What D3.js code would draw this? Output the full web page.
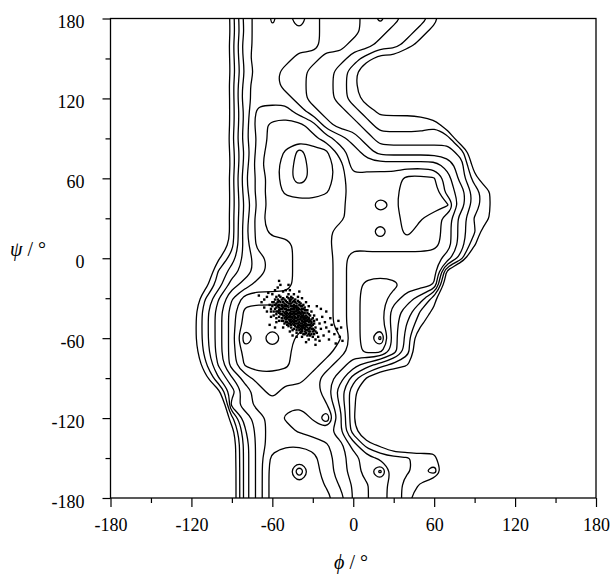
<!DOCTYPE html>
<html>
<head>
<meta charset="utf-8">
<script src="https://cdn.jsdelivr.net/npm/d3@7"></script>
<style>
  body { margin: 0; background: #fff; }
  text { font-family: "Liberation Serif", "Times New Roman", serif; fill: #000; }
</style>
</head>
<body>
<svg id="chart" width="612" height="575"></svg>
<script>
// Ramachandran contour map + helix scatter

// contour level, 10 degree grid
const phiCols = [-130,-120,-110,-100,-90,-80,-70,-60,-50,-40,-30,-20,-10,0,10,20,30,40,50,60,70,80,90,100,110];
const psiRows = [180,170,160,150,140,130,120,110,100,90,80,70,60,50,40,30,20,10,0,-10,-20,-30,-40,-50,-60,-70,-80,-90,-100,-110,-120,-130,-140,-150,-160,-170,-180];
const levelRows = [
  [-2,-2,-2,-2,1,4,5,5.6,5.2,6,5,4,4,4,3,3.7,3,2,2,1,-1,0,0,0,0],
  [-2,-2,-2,-2,0.9,3.8,5.2,5.4,5.2,5.4,5,4,4,4,3,3,2,2,1,0,-1,0,0,0,0],
  [-2,-2,-2,-2,1.1,4.2,4.8,5.3,5,5,5,4,4,3,3,2,2,1,0,-1,0,0,0,0,0],
  [-2,-2,-2,-2,1,4,5.3,5,5,4,4,3,3,2,1,0,0,-1,-1,0,0,0,0,0,0],
  [-2,-2,-2,-2,0.9,3.7,5,5,4,4,3,3,2,1,-1,-1,-1,-1,-1,-1,0,0,0,0,0],
  [-2,-2,-2,-2,1.1,4.1,5.2,5,4,4,3,3,2,1,-1,-1,-1,-1,-1,-1,-1,0,0,0,0],
  [-2,-2,-2,-2,1,4.3,4.8,5,5,4,3,3,2,1,0,-1,-1,-1,-1,-1,-1,0,0,0,0],
  [-2,-2,-2,-2,1,3.9,6,6,6,5,4,3,3,2,1,0.3,0.3,0.3,0.2,-1,-1,0,0,0,0],
  [-2,-2,-2,-2,1,4,6.2,6.7,6.9,6.8,6,4,3,3,2,1,1,1,1,1.4,-0.5,0,0,0,0],
  [-2,-2,-2,-2,1.2,4.2,5.8,6.9,7,7,6.8,6,5,4,3,2,2,2,2,2,2,-1,0,0,0],
  [-2,-2,-2,-2,1,3.8,6.1,7,7.6,8.8,8,7.7,6,5,4,3,3,3,3,3,3,2,-1,0,0],
  [-2,-2,-2,-2,0.9,4,6.3,7,8,8.9,8.2,8,7,5,5,5,5,5,5,5,4,3,-0.2,0,0],
  [-2,-2,-2,-2,1.1,4.3,5.9,7,8,9.1,8.2,8,7,5.8,6,6,6,6.8,6.8,6.6,5,3,1,-1,0],
  [-2,-2,-2,-2,1,4.1,6.1,7,7.7,8,8,7.6,7,6,6,6,6.2,7,7,7,5,4,2,0.7,-1],
  [-2,-2,-2,-2,1,3.8,5.8,7,7,7,7,7,6.8,6,6,7.1,6.3,7,7.2,7,6.6,4,2,0.8,-1],
  [-2,-2,-2,-2,1.1,4,6.2,7,7,7,7,7,6.8,6,6,6,6,7,6.6,6,5,3,1.4,0.6,-1],
  [-2,-2,-2,-2,1,4.2,6,6.8,7,7,7,6.8,6,6,6,7.1,6,6.8,6,6,5,3,1.6,-1,0],
  [-2,-2,-2,-1.5,1.2,4,6,6,6,7,7,6.8,6,5.8,6,6,6,6,6,5.8,5,3,0.6,-1,0],
  [-2,-2,-2,0.3,2,4,5,6,6,7,7,7,6,5,5,5,5,5,5,5,4,2,-2,0,0],
  [-2,-2,-1,1.6,3,4,5,6,6,7,7,7,6,5,5,5,5,5,5,5,0,-3,0,0,0],
  [-2,-2,0,2,4,5,6,6,6,7,7,7,6,5,5.8,6.1,5.8,5,5,4.4,-1,0,0,0,0],
  [-2,-1,1.4,3.4,5.4,7,7,7,7,7,7,7,6,5,6,6,5,4,3,1,-2,0,0,0,0],
  [-2,-0.4,2,4,6,7.8,8,8,8,7.7,7,7,6,5,6,6,4,3,1.4,0.2,-1,0,0,0,0],
  [-2,-0.3,2,4,6,8,8,8,8,8,7,7,6,5,6,6,4,2.4,0.7,-1,0,0,0,0,0],
  [-2,-0.3,2,4,6,9.4,8,9.7,8,7.2,7,7,6.6,5,6,7.8,4,2,-1,0,0,0,0,0,0],
  [-2,-0.6,1.8,4,6,8,8,8,7.8,7,7,7,6,5,5.8,5.8,4,2,-1,0,0,0,0,0,0],
  [-2,-1.2,1.2,3.6,6,7.7,8,8,7.7,7,7,6,5,4,3,2,1.2,0.6,-1,0,0,0,0,0,0],
  [-2,-2,0,2.4,4.4,6,7,7,7,7,6,5,4,2,0.4,-1,-1,-1,0,0,0,0,0,0,0],
  [-2,-2,-2,0.2,3,5,6,7,6,6,6,5,3,0.8,-1,-1,-1,0,0,0,0,0,0,0,0],
  [-2,-2,-2,-3,4,5,6,6,5.7,5.6,5.6,5.6,3.4,0.8,-1,-1,0,0,0,0,0,0,0,0,0],
  [-2,-2,-2,-2,1.2,4,5,6,5.4,5,5.6,7.4,4,0.6,-1,0,0,0,0,0,0,0,0,0,0],
  [-2,-2,-2,-2,0,3.4,5,6,5.8,5.4,5,5,3.6,1,-1,0,0,0,0,0,0,0,0,0,0],
  [-2,-2,-2,-2,-0.5,3,5,6,6.4,6.4,6.2,5.6,5,3,1,0.2,-1,-1,-1,0,0,0,0,0,0],
  [-2,-2,-2,-2,-0.5,3,5,6.8,7,7,6.8,6,5,4,3,2.2,1.8,1.6,1.2,0.8,-1,0,0,0,0],
  [-2,-2,-2,-2,-0.6,3,5,7,7,9.3,7,6,5,4,3,4.8,2,1.6,1.2,2.1,-1,0,0,0,0],
  [-2,-2,-2,-2,-0.6,3,5,7,7,7.4,7,6.4,5.4,4.4,3.6,2.8,2.2,1,0.4,-1,0,0,0,0,0],
  [-2,-2,-2,-2,-0.6,3,5,7,7,7,7,6.8,6,4.4,3.6,2.8,2.2,1,-1,0,0,0,0,0,0]
];
const thresholds = [0.5,1.5,2.5,3.5,4.5,5.5,6.5,7.5,8.5];

// helix conformations (phi, psi)
const helixPoints = [
  [-56,-31],[-54,-33],[-52,-30],[-50,-32],[-49,-29],[-47,-31],[-45,-33],[-53,-35],[-51,-36],[-48,-34],
  [-46,-36],[-44,-35],[-42,-34],[-55,-37],[-57,-34],[-50,-38],[-47,-39],[-45,-38],[-43,-37],[-41,-39],
  [-52,-40],[-49,-41],[-46,-42],[-44,-40],[-42,-42],[-40,-41],[-38,-40],[-54,-42],[-51,-43],[-48,-44],
  [-45,-45],[-43,-44],[-41,-46],[-39,-44],[-37,-43],[-50,-46],[-47,-47],[-44,-48],[-42,-49],[-40,-48],
  [-38,-47],[-36,-46],[-35,-49],[-46,-50],[-43,-51],[-41,-52],[-39,-51],[-37,-50],[-34,-52],[-33,-50],
  [-44,-53],[-40,-54],[-38,-55],[-36,-53],[-33,-55],[-31,-53],[-58,-38],[-56,-40],[-53,-45],[-49,-48],
  [-60,-36],[-59,-33],[-57,-29],[-55,-28],[-48,-27],[-46,-29],[-43,-31],[-40,-33],[-39,-36],[-37,-38],
  [-36,-41],[-34,-44],[-32,-47],[-30,-50],[-29,-54],[-31,-57],[-34,-58],[-37,-57],[-42,-56],[-45,-54],
  [-48,-51],[-51,-49],[-53,-47],[-55,-44],[-57,-42],[-59,-40],[-61,-38],[-62,-35],[-50,-35],[-48,-37],
  [-46,-40],[-44,-43],[-42,-45],[-40,-50],[-38,-52],[-36,-55],[-35,-45],[-33,-42],[-35,-39],[-38,-43],
  [-41,-37],[-43,-40],[-45,-42],[-47,-44],[-49,-43],[-51,-41],[-53,-38],[-55,-35],[-52,-33],[-49,-36],
  [-47,-34],[-44,-38],[-42,-39],[-40,-43],[-39,-46],[-37,-48],[-35,-51],[-32,-52],[-30,-55],[-28,-52],
  [-27,-56],[-29,-49],[-31,-46],[-33,-45],[-46,-46],[-48,-46],[-50,-44],[-52,-43],[-54,-40],[-56,-36],
  [-45,-36],[-43,-36],[-41,-41],[-39,-42],[-37,-45],[-36,-50],[-34,-47],[-43,-47],[-41,-49],[-39,-49],
  [-45,-49],[-47,-49],[-38,-54],[-35,-56],[-32,-58],[-30,-59],
  [-55,-32],[-53,-31],[-51,-34],[-49,-33],[-47,-32],[-46,-34],[-44,-32],[-42,-36],[-40,-35],[-38,-38],
  [-36,-39],[-34,-41],[-32,-43],[-30,-45],[-29,-47],[-31,-49],[-33,-48],[-35,-47],[-37,-46],[-39,-45],
  [-41,-44],[-43,-42],[-45,-40],[-47,-41],[-49,-39],[-51,-38],[-53,-36],[-55,-39],[-57,-37],[-58,-35],
  [-56,-33],[-54,-38],[-52,-37],[-50,-40],[-48,-42],[-46,-44],[-44,-46],[-42,-47],[-40,-46],[-38,-49],
  [-36,-48],[-34,-50],[-32,-50],[-31,-51],[-33,-53],[-35,-54],[-37,-52],[-39,-53],[-41,-51],[-43,-49],
  [-45,-47],[-47,-46],[-49,-45],[-51,-45],[-53,-42],[-55,-41],[-57,-40],[-52,-47],[-50,-48],[-48,-49],
  [-46,-48],[-44,-50],[-42,-52],[-40,-52],[-38,-51],[-36,-52],[-34,-54],[-32,-55],[-30,-53],[-28,-55],
  [-29,-57],[-33,-57],[-36,-57],[-39,-56],[-42,-54],[-46,-52],[-49,-50],[-44,-41],[-42,-40],[-40,-38],
  [-38,-36],[-36,-37],[-34,-39],[-43,-33],[-41,-32],[-39,-34],[-37,-35],[-45,-30],[-48,-30],[-51,-31],
  [-54,-29],[-58,-31],[-60,-33],[-61,-40],[-59,-43],[-57,-45],[-55,-47],[-50,-42],[-47,-43],[-45,-44],
  [-43,-45],[-41,-43],[-39,-41],[-37,-41],[-35,-43],[-33,-46],[-31,-48],[-46,-38],[-48,-39],[-50,-36],
  [-44,-37],[-42,-38],[-40,-40],[-38,-44],[-36,-44],[-34,-46],[-46,-31],
  [-66,-31],[-64,-29],[-68,-33],[-63,-26],[-60,-27],[-58,-24],[-56,-22],[-54,-20],[-52,-25],[-50,-24],
  [-47,-24],[-44,-27],[-41,-29],[-38,-30],[-35,-33],[-33,-36],[-31,-40],[-29,-43],[-27,-46],[-25,-49],
  [-24,-53],[-26,-59],[-28,-61],[-33,-61],[-38,-59],[-42,-59],[-47,-55],[-52,-52],[-57,-48],[-61,-44],
  [-64,-40],[-66,-37],[-23,-44],[-21,-48],[-20,-52],[-18,-55],[-16,-50],[-14,-57],[-12,-53],[-10,-59],
  [-8,-62],[-13,-64],[-18,-61],[-22,-58],[-25,-62],[-20,-40],[-17,-45],[-24,-38],[-27,-36],[-11,-47],
  [-28,-65],[-35,-63],[-45,-58],[-62,-50],[-58,-52],[-55,-17],[-48,-20],[-40,-25],[-70,-28],[-9,-52]
];

const majorTicks = [-180,-120,-60,0,60,120,180];
const minorTicks = [-150,-90,-30,30,90,150];

const svg = d3.select('#chart');
const x = d3.scaleLinear().domain([-180, 180]).range([110.5, 596]);
const y = d3.scaleLinear().domain([-180, 180]).range([498, 18.5]);

svg.append('clipPath').attr('id', 'plotclip')
  .append('rect')
  .attr('x', x(-180)).attr('y', y(180))
  .attr('width', x(180) - x(-180)).attr('height', y(-180) - y(180));

// grid padded by repeating the edge values, so rings close outside the frame
const padL = 7, nx = 41, ny = psiRows.length + 2;
const grid = new Array(nx * ny);
for (let r = 0; r < ny; r++) {
  const row = levelRows[Math.max(0, Math.min(levelRows.length - 1, r - 1))];
  for (let c = 0; c < nx; c++) {
    grid[r * nx + c] = row[Math.max(0, Math.min(phiCols.length - 1, c - padL))];
  }
}
const phi0 = phiCols[0] - 10 * padL;   // centre of first padded column
const psi0 = psiRows[0] + 10;          // centre of first padded row
const toPhi = cx => phi0 + 10 * (cx - 0.5);
const toPsi = cy => psi0 - 10 * (cy - 0.5);

const contours = d3.contours().size([nx, ny]).thresholds(thresholds)(grid);

const line = d3.line()
  .x(p => x(toPhi(p[0])))
  .y(p => y(toPsi(p[1])))
  .curve(d3.curveBasisClosed);

const g = svg.append('g').attr('clip-path', 'url(#plotclip)');
contours.forEach(c => {
  c.coordinates.forEach(poly => {
    poly.forEach(ring => {
      g.append('path')
        .attr('d', line(ring.slice(0, -1)))
        .attr('fill', 'none')
        .attr('stroke', '#000')
        .attr('stroke-width', 1.3);
    });
  });
});

// scatter
g.selectAll('rect.pt')
  .data(helixPoints)
  .enter()
  .append('rect')
  .attr('class', 'pt')
  .attr('x', d => x(d[0]) - 1.2)
  .attr('y', d => y(d[1]) - 1.2)
  .attr('width', 2.4)
  .attr('height', 2.4)
  .attr('fill', '#000');

// frame
svg.append('rect')
  .attr('x', x(-180)).attr('y', y(180))
  .attr('width', x(180) - x(-180)).attr('height', y(-180) - y(180))
  .attr('fill', 'none').attr('stroke', '#000').attr('stroke-width', 1.3);

// axes
const fmt = d => String(d);
const xMajor = svg.append('g').attr('transform', `translate(0,${y(-180)})`)
  .call(d3.axisBottom(x).tickValues(majorTicks).tickSize(9).tickSizeOuter(0).tickPadding(11).tickFormat(fmt));
const xMinor = svg.append('g').attr('transform', `translate(0,${y(-180)})`)
  .call(d3.axisBottom(x).tickValues(minorTicks).tickSize(5).tickSizeOuter(0).tickFormat(''));
const yMajor = svg.append('g').attr('transform', `translate(${x(-180)},0)`)
  .call(d3.axisLeft(y).tickValues(majorTicks).tickSize(8).tickSizeOuter(0).tickPadding(18).tickFormat(fmt));
const yMinor = svg.append('g').attr('transform', `translate(${x(-180)},0)`)
  .call(d3.axisLeft(y).tickValues(minorTicks).tickSize(5).tickSizeOuter(0).tickFormat(''));

[xMajor, xMinor, yMajor, yMinor].forEach(a => {
  a.select('.domain').remove();
  a.selectAll('line').attr('stroke', '#000').attr('stroke-width', 1.2);
  a.selectAll('text')
    .style('font-family', '"Liberation Serif", "Times New Roman", serif')
    .style('font-size', '18px')
    .attr('fill', '#000');
});
yMajor.selectAll('text').attr('dy', '0.5em');

// axis titles
const psiLab = svg.append('text').attr('x', 10).attr('y', 256)
  .style('font-size', '20px');
psiLab.append('tspan').style('font-style', 'italic').text('ψ');
psiLab.append('tspan').text(' / °');

const phiLab = svg.append('text').attr('x', 351).attr('y', 569)
  .attr('text-anchor', 'middle')
  .style('font-size', '20px');
phiLab.append('tspan').style('font-style', 'italic').text('ϕ');
phiLab.append('tspan').text(' / °');
</script>
</body>
</html>
